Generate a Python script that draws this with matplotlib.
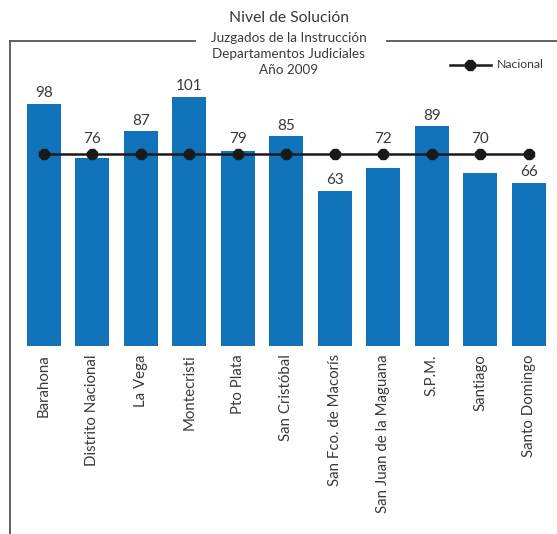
import matplotlib
matplotlib.use("Agg")
import matplotlib.pyplot as plt
from matplotlib.lines import Line2D

plt.rcParams["font.family"] = ["Lato", "DejaVu Sans"]

departamentos = [
    "Barahona", "Distrito Nacional", "La Vega", "Montecristi", "Pto Plata",
    "San Cristóbal", "San Fco. de Macorís", "San Juan de la Maguana",
    "S.P.M.", "Santiago", "Santo Domingo",
]
nivel = [98, 76, 87, 101, 79, 85, 63, 72, 89, 70, 66]
nacional = [78] * len(departamentos)

titulo = ["Nivel de Solución", "Juzgados de la Instrucción",
          "Departamentos Judiciales", "Año 2009"]

BLUE = "#1173ba"
TEXT = "#3a3a3a"
FRAME = "#555555"

fig = plt.figure(figsize=(5.57, 5.34), dpi=100)
ax = fig.add_axes([10 / 557, (534 - 346) / 534, 547 / 557, 306 / 534])

xs = list(range(len(departamentos)))
ax.bar(xs, nivel, width=0.70, color=BLUE, zorder=2)
for x, v, n in zip(xs, nivel, nacional):
    # etiquetas que chocan con la linea nacional van por encima de ella
    y = n + 3 if n - 10 < v < n + 3 else v + 1.5
    ax.text(x, y, f"{v}", ha="center", va="bottom", fontsize=11, color=TEXT)

ax.plot(xs, nacional, color="#1a1a1a", linewidth=1.8, marker="8", markersize=7.5,
        zorder=3)

ax.set_xlim(-0.70, 10.58)
ax.set_ylim(0, 124)
ax.set_yticks([])
ax.set_xticks(xs)
ax.set_xticklabels(departamentos, rotation=90, fontsize=10.8, color=TEXT)
ax.tick_params(axis="x", length=0, pad=6)
for s in ax.spines.values():
    s.set_visible(False)

# marco
ytop = 1 - 41 / 534
fig.add_artist(Line2D([10 / 557, 10 / 557], [0, ytop], color=FRAME, lw=1.3))
fig.add_artist(Line2D([10 / 557, 195 / 557], [ytop] * 2, color=FRAME, lw=1.3))
fig.add_artist(Line2D([387 / 557, 1], [ytop] * 2, color=FRAME, lw=1.3))

# titulo
fig.text(289 / 557, 1 - 18 / 534, titulo[0], ha="center", va="center", fontsize=11.3, color=TEXT)
for i, t in enumerate(titulo[1:]):
    fig.text(289 / 557, 1 - (38 + 16 * i) / 534, t, ha="center", va="center",
             fontsize=9.7, color=TEXT)

# leyenda
yl = 1 - 65 / 534
fig.add_artist(Line2D([450 / 557, 491 / 557], [yl] * 2, color="#1a1a1a", lw=1.8))
fig.add_artist(Line2D([470 / 557], [yl], color="#1a1a1a", marker="8",
                      markersize=7.5, linestyle="none"))
fig.text(497 / 557, yl, "Nacional", ha="left", va="center", fontsize=8.8, color=TEXT)

fig.savefig("out.png", dpi=100)
